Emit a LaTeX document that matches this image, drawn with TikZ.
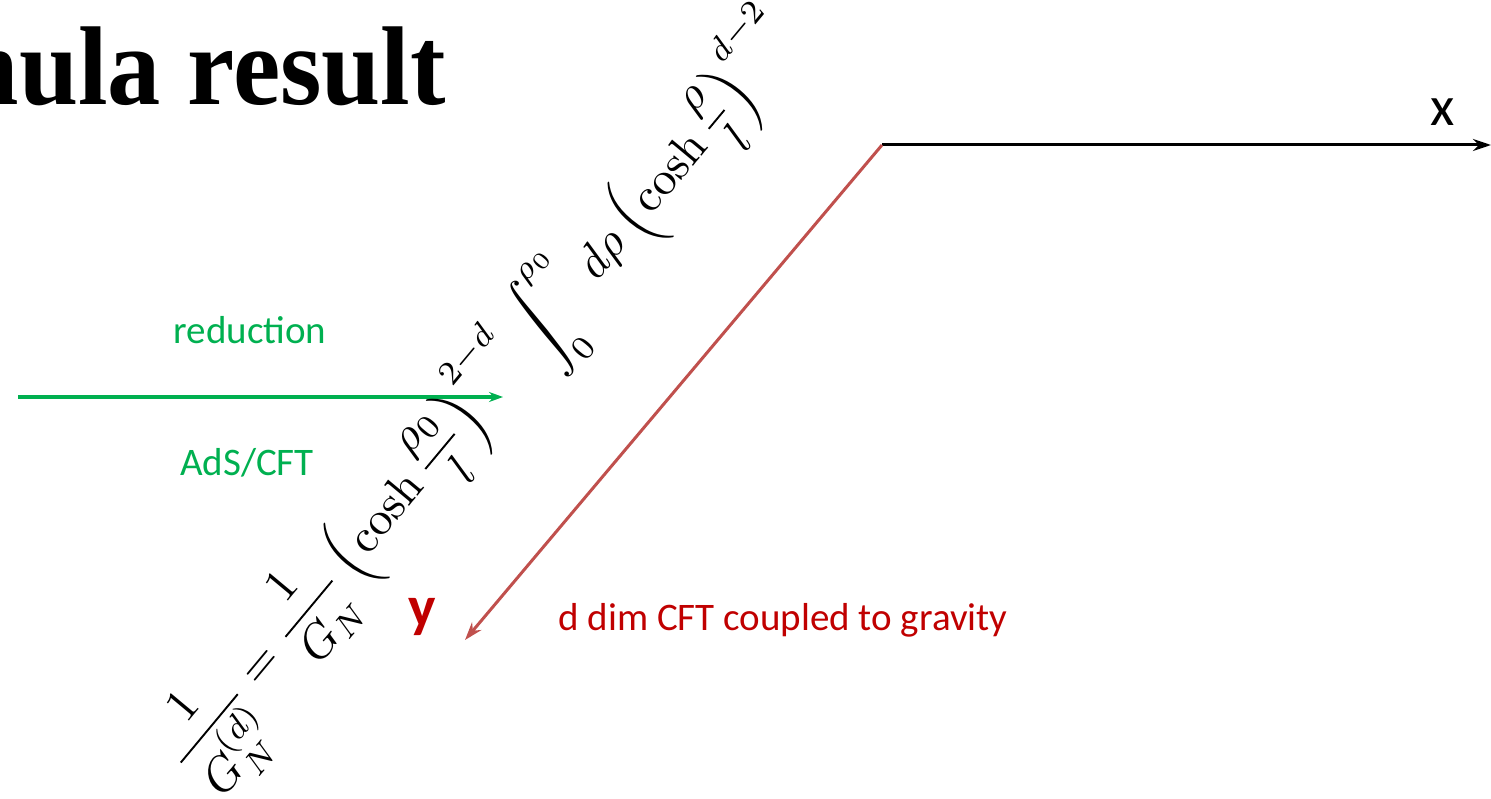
\documentclass[tikz,border=0pt]{standalone}
\usepackage{amsmath}
\usepackage{fontspec}
\newfontfamily\calib{Carlito}
\newfontfamily\titlefont{Liberation Serif}
\usetikzlibrary{arrows.meta}
\definecolor{grn}{RGB}{0,176,80}
\definecolor{dred}{RGB}{192,0,0}
\definecolor{lred}{RGB}{192,80,77}
\tikzset{
  lbl/.style={font=\calib\fontsize{39}{46}\selectfont, inner sep=0pt},
  axis/.style={line width=3pt, -{Stealth[length=18pt,width=12pt]}},
}
\begin{document}
\begin{tikzpicture}[x=1pt,y=-1pt]
\useasboundingbox (0,0) rectangle (1491,799);
\node[anchor=base east, inner sep=0pt, xscale=0.95, font=\titlefont\bfseries\fontsize{112}{120}\selectfont] (title) at (446,105) {Formula result};
\coordinate (o) at (882,145);
\coordinate (xe) at (1491,145);
\coordinate (ye) at (465,640);
\draw[axis, black] (o) -- (xe);
\draw[axis, lred] (o) -- (ye);
\node[font=\calib\fontsize{56}{60}\selectfont, inner sep=0pt] (xl) at (1443,112) {x};
\node[font=\calib\bfseries\fontsize{58}{62}\selectfont, inner sep=0pt, text=dred] (yl) at (422,617) {y};
\coordinate (gs) at (18,397);
\coordinate (ge) at (503,397);
\draw[line width=3pt, grn, -{Stealth[length=14pt,width=10pt]}] (gs) -- (ge);
\node[lbl, text=grn] (red) at (250,330) {reduction};
\node[lbl, text=grn] (ads) at (247,463) {AdS/CFT};
\node[lbl, text=dred] (cft) at (783,620) {d dim CFT coupled to gravity};
\node[rotate=50.2, scale=4.74, inner sep=0pt] (formula) at (490,403)
  {$\displaystyle \frac{1}{G_N^{(d)}}=\frac{1}{G_N}\left(\cosh\frac{\rho_0}{l}\right)^{2-d}\int_0^{\rho_0}d\rho\left(\cosh\frac{\rho}{l}\right)^{d-2}$};
\end{tikzpicture}
\end{document}
